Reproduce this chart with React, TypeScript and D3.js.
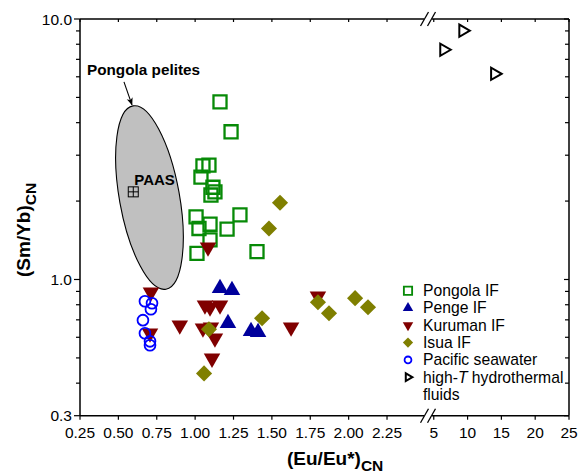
import React from 'react'
import * as d3 from 'd3'

const width = 579
const height = 473
const font = 'Liberation Sans, Arial, Helvetica, sans-serif'

// (Eu/Eu*)CN, (Sm/Yb)CN
const pongolaIF: [number, number][] = [
  [1.162, 4.81], [1.234, 3.69], [1.051, 2.73], [1.09, 2.75], [1.038, 2.47],
  [1.116, 2.26], [1.129, 2.17], [1.103, 2.11], [1.006, 1.74], [1.292, 1.77],
  [1.025, 1.57], [1.097, 1.63], [1.208, 1.56], [1.097, 1.42], [1.012, 1.26],
  [1.403, 1.28],
]
const pengeIF: [number, number][] = [
  [1.162, 0.926], [1.24, 0.91], [1.214, 0.679], [1.364, 0.633], [1.41, 0.627],
]
const kurumanIF: [number, number][] = [
  [0.712, 0.894], [0.706, 0.622], [0.9, 0.667], [1.064, 0.796], [1.097, 0.782],
  [1.162, 0.796], [1.051, 0.65], [1.103, 0.656], [1.129, 0.595], [1.11, 0.498],
  [1.084, 1.33], [1.625, 0.656], [1.8, 0.863],
]
const isuaIF: [number, number][] = [
  [1.553, 1.97], [1.481, 1.57], [1.436, 0.71], [1.09, 0.644], [1.058, 0.436],
  [1.8, 0.818], [1.872, 0.742], [2.042, 0.848], [2.126, 0.782],
]
const pacificSeawater: [number, number][] = [
  [0.673, 0.825], [0.719, 0.811], [0.712, 0.769], [0.66, 0.698], [0.673, 0.622],
  [0.706, 0.579], [0.706, 0.559],
]
const hydrothermal: [number, number][] = [
  [9.3, 9.02], [6.48, 7.62], [14.0, 6.16],
]
const paas: [number, number] = [0.597, 2.17]
// Pongola pelites field: ends of the long axis, half width in px
const pelitesTop: [number, number] = [0.595, 4.64]
const pelitesBottom: [number, number] = [0.81, 0.918]
const pelitesHalfWidth = 30

const lowTicks = [0.25, 0.5, 0.75, 1.0, 1.25, 1.5, 1.75, 2.0, 2.25]
const highTicks = [5, 10, 15, 20, 25]
const yMajor = [0.3, 1, 10]
const yMinor = [0.4, 0.5, 0.6, 0.7, 0.8, 0.9, 2, 3, 4, 5, 6, 7, 8, 9]

const legendItems = ['Pongola IF', 'Penge IF', 'Kuruman IF', 'Isua IF', 'Pacific seawater', 'high-T hydrothermal']

const plot = { left: 80, right: 569, top: 19, bottom: 415.7 }
const breakAt = 428

const xLow = d3.scaleLinear().domain([0.25, 2.5]).range([plot.left, 425.4])
const xHigh = d3.scaleLinear().domain([4, 25]).range([427, plot.right])
const x = (v: number) => (v < 3 ? xLow(v) : xHigh(v))
const y = d3.scaleLog().domain([0.3, 10]).range([plot.bottom, plot.top])

const green = '#078a07'
const navy = '#00009c'
const maroon = '#800000'
const olive = '#7f7f00'
const blue = '#0000ff'

const sym = (type: any, size: number) => d3.symbol().type(type).size(size)() as string

type Style = { d: string; rot: number; fill: string; stroke: string; sw: number }
const markerStyles = (scale: number): Style[] => [
  { d: sym(d3.symbolSquare, 170 * scale), rot: 0, fill: 'none', stroke: green, sw: 2.3 },
  { d: sym(d3.symbolTriangle, 118 * scale), rot: 0, fill: navy, stroke: 'none', sw: 0 },
  { d: sym(d3.symbolTriangle, 118 * scale), rot: 180, fill: maroon, stroke: 'none', sw: 0 },
  { d: sym(d3.symbolSquare, 130 * scale), rot: 45, fill: olive, stroke: 'none', sw: 0 },
  { d: sym(d3.symbolCircle, 92 * scale), rot: 0, fill: 'none', stroke: blue, sw: 1.8 },
  { d: sym(d3.symbolTriangle, 64 * scale), rot: 90, fill: 'none', stroke: '#000', sw: 2 },
]

const seriesList = [pongolaIF, pengeIF, kurumanIF, isuaIF, pacificSeawater, hydrothermal]
const drawOrder = [0, 2, 1, 3, 4, 5]

export default function App() {
  const styles = markerStyles(1)
  const legendStyles = markerStyles(0.4)

  const top = [x(pelitesTop[0]), y(pelitesTop[1])]
  const bot = [x(pelitesBottom[0]), y(pelitesBottom[1])]
  const cx = (top[0] + bot[0]) / 2
  const cy = (top[1] + bot[1]) / 2
  const semiMajor = Math.hypot(bot[0] - top[0], bot[1] - top[1]) / 2
  const angle = (Math.atan2(bot[0] - top[0], bot[1] - top[1]) * 180) / Math.PI

  const legendX = 408
  const legendBase = 296
  const legendStep = 17.3

  const slashes = (yy: number) => (
    <g>
      <rect x={breakAt - 4} y={yy - 2} width={8} height={4} fill="#fff" />
      {[-3.5, 3.5].map((dx) => (
        <line key={dx} x1={breakAt + dx - 4} y1={yy + 7} x2={breakAt + dx + 4} y2={yy - 7} stroke="#000" strokeWidth={1.3} />
      ))}
    </g>
  )

  return (
    <svg width={width} height={height} style={{ position: 'absolute', left: 0, top: 0 }} fontFamily={font}>
      <defs>
        <marker id="arrowHead" viewBox="0 0 10 10" refX="9" refY="5" markerWidth="7" markerHeight="7" orient="auto">
          <path d="M0,1 L10,5 L0,9 L2.5,5 z" fill="#000" />
        </marker>
      </defs>

      {/* Pongola pelites field */}
      <ellipse
        cx={cx} cy={cy} rx={pelitesHalfWidth} ry={semiMajor}
        transform={`rotate(${-angle},${cx},${cy})`}
        fill="#c0c0c0" stroke="#000" strokeWidth={1.1}
      />
      <line x1={top[0] - 9} y1={top[1] - 24} x2={top[0] - 1} y2={top[1] - 1} stroke="#000" strokeWidth={1.1} markerEnd="url(#arrowHead)" />
      <text x={top[0] - 46} y={top[1] - 31} fontSize={15.3} fontWeight="bold" textAnchor="start">Pongola pelites</text>

      {/* PAAS */}
      <g transform={`translate(${x(paas[0])},${y(paas[1])})`}>
        <rect x={-5} y={-5} width={10} height={10} fill="none" stroke="#000" strokeWidth={1} />
        <line x1={0} y1={-5} x2={0} y2={5} stroke="#000" strokeWidth={1} />
        <line x1={-5} y1={0} x2={5} y2={0} stroke="#000" strokeWidth={1} />
      </g>
      <text x={x(paas[0]) + 1} y={y(paas[1]) - 7} fontSize={15} fontWeight="bold">PAAS</text>

      {/* data */}
      {drawOrder.map((si) => (
        <g key={si}>
          {seriesList[si].map((p, i) => (
            <path
              key={i}
              d={styles[si].d}
              transform={`translate(${x(p[0])},${y(p[1])}) rotate(${styles[si].rot})`}
              fill={styles[si].fill}
              stroke={styles[si].stroke}
              strokeWidth={styles[si].sw}
            />
          ))}
        </g>
      ))}

      {/* frame */}
      <g stroke="#000" strokeWidth={1.5} fill="none">
        <line x1={plot.left} y1={plot.top} x2={plot.left} y2={plot.bottom} />
        <line x1={plot.right} y1={plot.top} x2={plot.right} y2={plot.bottom} />
        <line x1={plot.left} y1={plot.bottom} x2={breakAt - 4} y2={plot.bottom} />
        <line x1={breakAt + 4} y1={plot.bottom} x2={plot.right} y2={plot.bottom} />
        <line x1={plot.left} y1={plot.top} x2={breakAt - 4} y2={plot.top} />
        <line x1={breakAt + 4} y1={plot.top} x2={plot.right} y2={plot.top} />
      </g>
      {slashes(plot.top)}
      {slashes(plot.bottom)}

      {/* y ticks */}
      <g stroke="#000" strokeWidth={1.2}>
        {yMajor.map((t) => (
          <g key={t}>
            <line x1={plot.left - 6} y1={y(t)} x2={plot.left} y2={y(t)} />
            <line x1={plot.right} y1={y(t)} x2={plot.right - 5} y2={y(t)} />
          </g>
        ))}
        {yMinor.map((t) => (
          <g key={t}>
            <line x1={plot.left - 4} y1={y(t)} x2={plot.left} y2={y(t)} />
            <line x1={plot.right} y1={y(t)} x2={plot.right - 4} y2={y(t)} />
          </g>
        ))}
      </g>
      {yMajor.map((t) => (
        <text key={t} x={plot.left - 8} y={y(t) + 5.5} fontSize={15.5} textAnchor="end">{t.toFixed(1)}</text>
      ))}

      {/* x ticks */}
      <g stroke="#000" strokeWidth={1.2}>
        {[...lowTicks.map((t) => xLow(t)), ...highTicks.map((t) => xHigh(t))].map((px, i) => (
          <g key={i}>
            <line x1={px} y1={plot.bottom} x2={px} y2={plot.bottom + 4} />
            <line x1={px} y1={plot.top} x2={px} y2={plot.top + 3} />
          </g>
        ))}
      </g>
      {lowTicks.map((t) => (
        <text key={'l' + t} x={xLow(t)} y={438} fontSize={15.5} textAnchor="middle">{t.toFixed(2)}</text>
      ))}
      {highTicks.map((t) => (
        <text key={'h' + t} x={xHigh(t)} y={438} fontSize={15.5} textAnchor="middle">{t}</text>
      ))}

      {/* axis titles */}
      <text x={287} y={465} fontSize={19} fontWeight="bold">
        (Eu/Eu*)<tspan fontSize={15.5} dy={6}>CN</tspan>
      </text>
      <text transform={`translate(30,277) rotate(-90)`} fontSize={19} fontWeight="bold">
        (Sm/Yb)<tspan fontSize={15.5} dy={6}>CN</tspan>
      </text>

      {/* legend */}
      {legendItems.map((name, i) => {
        const base = legendBase + i * legendStep
        const st = legendStyles[i]
        return (
          <g key={name}>
            <path
              d={st.d}
              transform={`translate(${legendX},${base - 5.3}) rotate(${st.rot})`}
              fill={st.fill}
              stroke={st.stroke}
              strokeWidth={st.sw * (i === 0 ? 0.8 : 1)}
            />
            {i === 5 ? (
              <text x={legendX + 15} y={base} fontSize={15.7}>
                high-<tspan fontStyle="italic">T</tspan> hydrothermal
              </text>
            ) : (
              <text x={legendX + 15} y={base} fontSize={15.7}>{name}</text>
            )}
          </g>
        )
      })}
      <text x={legendX + 15} y={legendBase + 6 * legendStep} fontSize={15.7}>fluids</text>
    </svg>
  )
}
